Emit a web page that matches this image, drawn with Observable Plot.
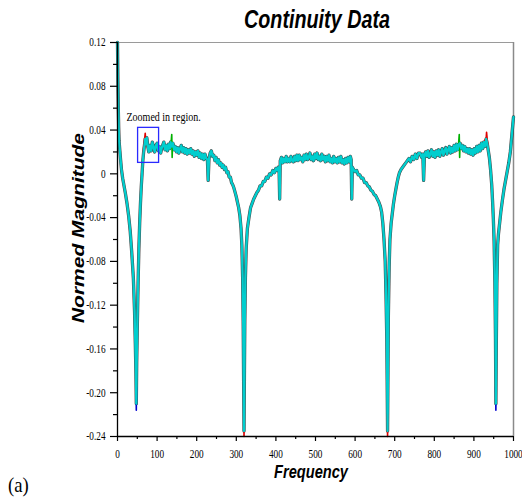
<!DOCTYPE html>
<html>
<head>
<meta charset="utf-8">
<script src="https://cdn.jsdelivr.net/npm/d3@7"></script>
<script src="https://cdn.jsdelivr.net/npm/@observablehq/plot@0.6"></script>
<style>
  html, body { margin: 0; padding: 0; background: #fff; }
  svg { display: block; }
</style>
</head>
<body>
<div id="chart"></div>
<script>
// ---- Spectrum (main series) ----
const freqEdge = [0, 1, 2, 3, 4, 6, 8, 10, 13, 16, 20, 24, 28, 32, 36, 40, 43, 45, 46.5, 47.5, 48.5, 50, 52, 54, 56, 58, 60, 62, 64, 66, 68];
const magEdge  = [0.120, 0.085, 0.060, 0.042, 0.030, 0.021, 0.012, 0.004, -0.004, -0.010, -0.018, -0.027, -0.038, -0.052, -0.072, -0.095, -0.125, -0.155, -0.182, -0.210, -0.172, -0.140, -0.100, -0.068, -0.045, -0.027, -0.012, 0.000, 0.012, 0.020, 0.026];

const freqPlateauL = [
  70, 72, 74, 77, 79,
  82, 85, 88, 91, 94,
  97, 100, 103, 106, 109,
  112, 115, 117, 120, 123,
  126, 129, 132, 134, 137,
  140, 143, 146, 149, 152,
  155, 158, 161, 164, 167,
  170, 173, 176, 179, 182,
  185, 188, 191, 194, 197,
  200, 203, 206, 209, 212,
  215, 218, 221, 224, 227,
  229, 231, 234, 237, 240,
  243, 246, 249, 252, 255,
  258, 261, 264, 267, 270,
  273, 276, 279, 282, 285,
  288, 291, 294, 297, 300];
const magPlateauL = [
  0.032, 0.027, 0.033, 0.024, 0.020,
  0.026, 0.021, 0.029, 0.024, 0.020,
  0.026, 0.028, 0.021, 0.025, 0.019,
  0.024, 0.027, 0.029, 0.022, 0.026,
  0.021, 0.027, 0.023, 0.029, 0.025,
  0.028, 0.022, 0.025, 0.020, 0.024,
  0.019, 0.023, 0.026, 0.020, 0.024,
  0.019, 0.023, 0.018, 0.022, 0.019,
  0.023, 0.018, 0.021, 0.016, 0.020,
  0.017, 0.021, 0.015, 0.019, 0.014,
  0.018, 0.013, 0.018, 0.014, 0.013,
  -0.006, 0.014, 0.019, 0.021, 0.016,
  0.017, 0.012, 0.015, 0.010, 0.013,
  0.008, 0.010, 0.006, 0.008, 0.004,
  0.006, 0.001, 0.002, -0.003, -0.003,
  -0.008, -0.010, -0.013, -0.017, -0.021];

const freqDipL = [
  303, 306, 309, 312, 314,
  316, 317.5, 318.5, 319.5, 320.5,
  321.5, 323, 325, 328, 332,
  336, 340, 344, 348, 352,
  356, 360, 364, 368, 372,
  376, 380, 384, 388, 392,
  396, 400, 403, 406, 408];
const magDipL = [
  -0.026, -0.031, -0.038, -0.050, -0.065,
  -0.095, -0.140, -0.190, -0.235, -0.185,
  -0.135, -0.095, -0.068, -0.050, -0.040,
  -0.031, -0.027, -0.023, -0.020, -0.017,
  -0.015, -0.011, -0.011, -0.007, -0.007,
  -0.003, -0.004, 0.000, -0.001, 0.003,
  0.001, 0.005, 0.003, 0.006, 0.004];

const freqCentre = [
  409.5, 411, 414, 417, 420,
  423, 426, 429, 432, 435,
  438, 441, 444, 447, 450,
  453, 456, 459, 462, 465,
  468, 471, 474, 477, 480,
  483, 486, 489, 492, 495,
  498, 501, 504, 507, 510,
  513, 516, 519, 522, 525,
  528, 531, 534, 537, 540,
  543, 546, 549, 552, 555,
  558, 561, 564, 567, 570,
  573, 576, 579, 582, 585,
  588, 590, 591.5, 593, 596];
const magCentre = [
  -0.023, 0.012, 0.015, 0.010, 0.014,
  0.011, 0.016, 0.011, 0.014, 0.011,
  0.016, 0.012, 0.011, 0.016, 0.012,
  0.017, 0.012, 0.017, 0.013, 0.015,
  0.011, 0.017, 0.013, 0.018, 0.013,
  0.015, 0.019, 0.013, 0.016, 0.012,
  0.018, 0.014, 0.019, 0.013, 0.016,
  0.012, 0.018, 0.013, 0.016, 0.011,
  0.016, 0.012, 0.017, 0.011, 0.014,
  0.010, 0.016, 0.011, 0.014, 0.010,
  0.015, 0.011, 0.016, 0.010, 0.013,
  0.009, 0.014, 0.010, 0.015, 0.011,
  0.016, 0.013, -0.023, 0.006, 0.004];

const freqDipR = [
  600, 604, 608, 612, 616,
  620, 624, 628, 632, 636,
  640, 644, 648, 652, 656,
  660, 664, 667, 670, 673,
  676, 678, 680, 681, 682,
  683, 684, 686, 688, 691,
  694, 697, 700, 703, 706,
  709, 712, 716, 720, 724,
  728, 732, 736, 740, 744,
  748, 752, 756, 760, 764,
  768, 771, 773, 775, 778];
const magDipR = [
  0.002, 0.003, -0.001, -0.001, -0.004,
  -0.004, -0.008, -0.008, -0.011, -0.012,
  -0.015, -0.016, -0.019, -0.020, -0.023,
  -0.026, -0.030, -0.035, -0.045, -0.060,
  -0.080, -0.110, -0.150, -0.190, -0.235,
  -0.180, -0.130, -0.085, -0.060, -0.045,
  -0.036, -0.027, -0.020, -0.014, -0.008,
  -0.003, 0.001, 0.004, 0.006, 0.008,
  0.010, 0.012, 0.014, 0.011, 0.016,
  0.013, 0.018, 0.014, 0.019, 0.019,
  0.015, 0.018, -0.006, 0.016, 0.020];

const freqPlateauR = [
  781, 784, 787, 790, 793,
  796, 799, 802, 805, 808,
  811, 814, 817, 820, 823,
  826, 829, 832, 835, 838,
  841, 844, 847, 850, 853,
  856, 859, 862, 865, 868,
  871, 874, 877, 880, 883,
  886, 889, 892, 895, 898,
  901, 904, 907, 910, 913,
  916, 919, 922, 925, 928,
  931, 934, 936, 939, 942,
  945, 947, 949, 951, 953,
  954.5, 955.5, 956.5, 958, 960,
  962, 965, 968, 972, 976,
  980, 984, 988, 992, 996,
  1000];
const magPlateauR = [
  0.016, 0.021, 0.015, 0.018, 0.022,
  0.016, 0.020, 0.015, 0.021, 0.017,
  0.022, 0.016, 0.020, 0.023, 0.017,
  0.021, 0.024, 0.018, 0.022, 0.025,
  0.019, 0.024, 0.020, 0.026, 0.021,
  0.027, 0.022, 0.027, 0.028, 0.023,
  0.026, 0.021, 0.025, 0.020, 0.023,
  0.019, 0.023, 0.018, 0.022, 0.017,
  0.023, 0.019, 0.025, 0.020, 0.026,
  0.021, 0.028, 0.023, 0.029, 0.025,
  0.032, 0.027, 0.022, 0.015, 0.004,
  -0.010, -0.024, -0.040, -0.061, -0.100,
  -0.150, -0.210, -0.160, -0.100, -0.065,
  -0.055, -0.045, -0.035, -0.024, -0.014,
  -0.006, 0.002, 0.010, 0.020, 0.036,
  0.052];

// ---- Other overlaid runs, visible only where they stick out ----
const redFreqL = [63, 66, 68, 70, 72, 74, 76];
const redMagL  = [0.006, 0.024, 0.030, 0.037, 0.028, 0.031, 0.024];
const redFreqR = [926, 928, 930, 932, 934, 936];
const redMagR  = [0.029, 0.031, 0.027, 0.038, 0.030, 0.024];
const greenFreqL = [135, 137, 138, 139, 141];
const greenMagL  = [0.027, 0.036, 0.015, 0.026, 0.026];
const greenFreqR = [861, 863, 864, 865, 867];
const greenMagR  = [0.026, 0.036, 0.015, 0.027, 0.025];
const blueFreqL = [47, 47.5, 48];
const blueMagL  = [-0.195, -0.216, -0.195];
const blueFreqR = [955, 955.5, 956];
const blueMagR  = [-0.195, -0.216, -0.195];
const redDipFreqL = [319, 319.5, 320];
const redDipMagL  = [-0.22, -0.240, -0.22];
const redDipFreqR = [681.5, 682, 682.5];
const redDipMagR  = [-0.22, -0.240, -0.22];

// ---- Annotation and ticks ----
const zoomBoxX = [52, 105];
const zoomBoxY = [0.010, 0.042];
const zoomNote = "Zoomed in region.";
const zoomNoteAt = [24, 0.048];
const xTicks = [0, 100, 200, 300, 400, 500, 600, 700, 800, 900, 1000];
const xMinorTicks = [50, 150, 250, 350, 450, 550, 650, 750, 850, 950];
const yTicks = [0.12, 0.08, 0.04, 0, -0.04, -0.08, -0.12, -0.16, -0.20, -0.24];
const yMinorTicks = [0.10, 0.06, 0.02, -0.02, -0.06, -0.10, -0.14, -0.18, -0.22];
const titleText = "Continuity Data";
const xLabel = "Frequency";
const yLabel = "Normed Magnitude";
const panelTag = "(a)";

// ---- Build tables ----
const freq = [...freqEdge, ...freqPlateauL, ...freqDipL, ...freqCentre, ...freqDipR, ...freqPlateauR];
const magnitude = [...magEdge, ...magPlateauL, ...magDipL, ...magCentre, ...magDipR, ...magPlateauR];
const spectrum = freq.map((f, i) => ({f, m: magnitude[i]}));
const toRows = (fs, ms, g) => fs.map((f, i) => ({f, m: ms[i], g}));
const redRows = [...toRows(redFreqL, redMagL, "a"), ...toRows(redFreqR, redMagR, "b"),
                 ...toRows(redDipFreqL, redDipMagL, "c"), ...toRows(redDipFreqR, redDipMagR, "d")];
const greenRows = [...toRows(greenFreqL, greenMagL, "a"), ...toRows(greenFreqR, greenMagR, "b")];
const blueRows = [...toRows(blueFreqL, blueMagL, "a"), ...toRows(blueFreqR, blueMagR, "b")];

const fmtY = d => Math.abs(d) < 1e-9 ? "0" : d.toFixed(2);
const cyan = "#00cece";

const plot = Plot.plot({
  width: 522,
  height: 497,
  marginLeft: 117,
  marginRight: 9,
  marginTop: 42,
  marginBottom: 61,
  style: {fontFamily: "'Liberation Serif', serif", fontSize: "12px", background: "#fff", color: "#000"},
  x: {domain: [0, 1000]},
  y: {domain: [-0.24, 0.12]},
  marks: [
    Plot.ruleY([0.12], {stroke: "#9a9a9a", strokeWidth: 1.2}),
    Plot.ruleX([1000], {stroke: "#8a8a8a", strokeWidth: 1.5}),
    Plot.line(spectrum, {x: "f", y: "m", stroke: "#1a1a1a", strokeWidth: 3.3, strokeOpacity: 0.8, strokeLinejoin: "round"}),
    Plot.line(greenRows, {x: "f", y: "m", z: "g", stroke: "#00b000", strokeWidth: 1.6}),
    Plot.line(redRows, {x: "f", y: "m", z: "g", stroke: "#e00000", strokeWidth: 1.6}),
    Plot.line(blueRows, {x: "f", y: "m", z: "g", stroke: "#0000d0", strokeWidth: 1.6}),
    Plot.line(spectrum, {x: "f", y: "m", stroke: cyan, strokeWidth: 2.3, strokeLinejoin: "round"}),
    Plot.rect([{x1: zoomBoxX[0], x2: zoomBoxX[1], y1: zoomBoxY[0], y2: zoomBoxY[1]}],
      {x1: "x1", x2: "x2", y1: "y1", y2: "y2", fill: "none", stroke: "#2a2aff", strokeWidth: 1.3}),
    Plot.axisY({ticks: yMinorTicks, tickSize: 4, tickFormat: () => "", label: null}),
    Plot.axisY({ticks: yTicks, tickSize: 7, tickPadding: 5, tickFormat: fmtY, label: null}),
    Plot.axisX({ticks: xMinorTicks, tickSize: 3, tickFormat: () => "", label: null}),
    Plot.axisX({ticks: xTicks, tickSize: 5, tickPadding: 8, tickFormat: d => String(d), label: null}),
    Plot.ruleX([0], {stroke: "#000", strokeWidth: 1.3}),
    Plot.ruleY([-0.24], {stroke: "#000", strokeWidth: 1.3})
  ]
});

document.getElementById("chart").appendChild(plot);

const svg = d3.select(plot);
// Horizontally condensed serif tick labels, as in the reference
svg.selectAll('g[aria-label="x-axis tick label"] text, g[aria-label="y-axis tick label"] text').each(function () {
  const t = this.getAttribute("transform") || "";
  this.setAttribute("transform", t + " scale(0.77,1)");
});
svg.selectAll('g[aria-label="x-axis tick"] path, g[aria-label="y-axis tick"] path').attr("stroke-width", 1.2);

const sx = plot.scale("x"), sy = plot.scale("y");

svg.append("text")
  .attr("transform", `translate(${sx.apply(zoomNoteAt[0])},${sy.apply(zoomNoteAt[1])}) scale(0.77,1)`)
  .attr("text-anchor", "start")
  .style("font", "13px 'Liberation Serif', serif")
  .attr("fill", "#000")
  .text(zoomNote);

svg.append("text")
  .attr("transform", "translate(317,28) scale(0.76,1)")
  .attr("text-anchor", "middle")
  .style("font", "italic bold 26px 'Liberation Sans', sans-serif")
  .attr("fill", "#000")
  .text(titleText);

svg.append("text")
  .attr("transform", "translate(311,478) scale(0.77,1)")
  .attr("text-anchor", "middle")
  .style("font", "italic bold 19px 'Liberation Sans', sans-serif")
  .attr("fill", "#000")
  .text(xLabel);

svg.append("text")
  .attr("transform", "translate(84,228) scale(0.77,1) rotate(-90)")
  .attr("text-anchor", "middle")
  .style("font", "italic bold 21px 'Liberation Sans', sans-serif")
  .attr("fill", "#000")
  .text(yLabel);

svg.append("text")
  .attr("transform", "translate(8,492) scale(0.85,1)")
  .attr("text-anchor", "start")
  .style("font", "22px 'Liberation Serif', serif")
  .attr("fill", "#000")
  .text(panelTag);
</script>
</body>
</html>
